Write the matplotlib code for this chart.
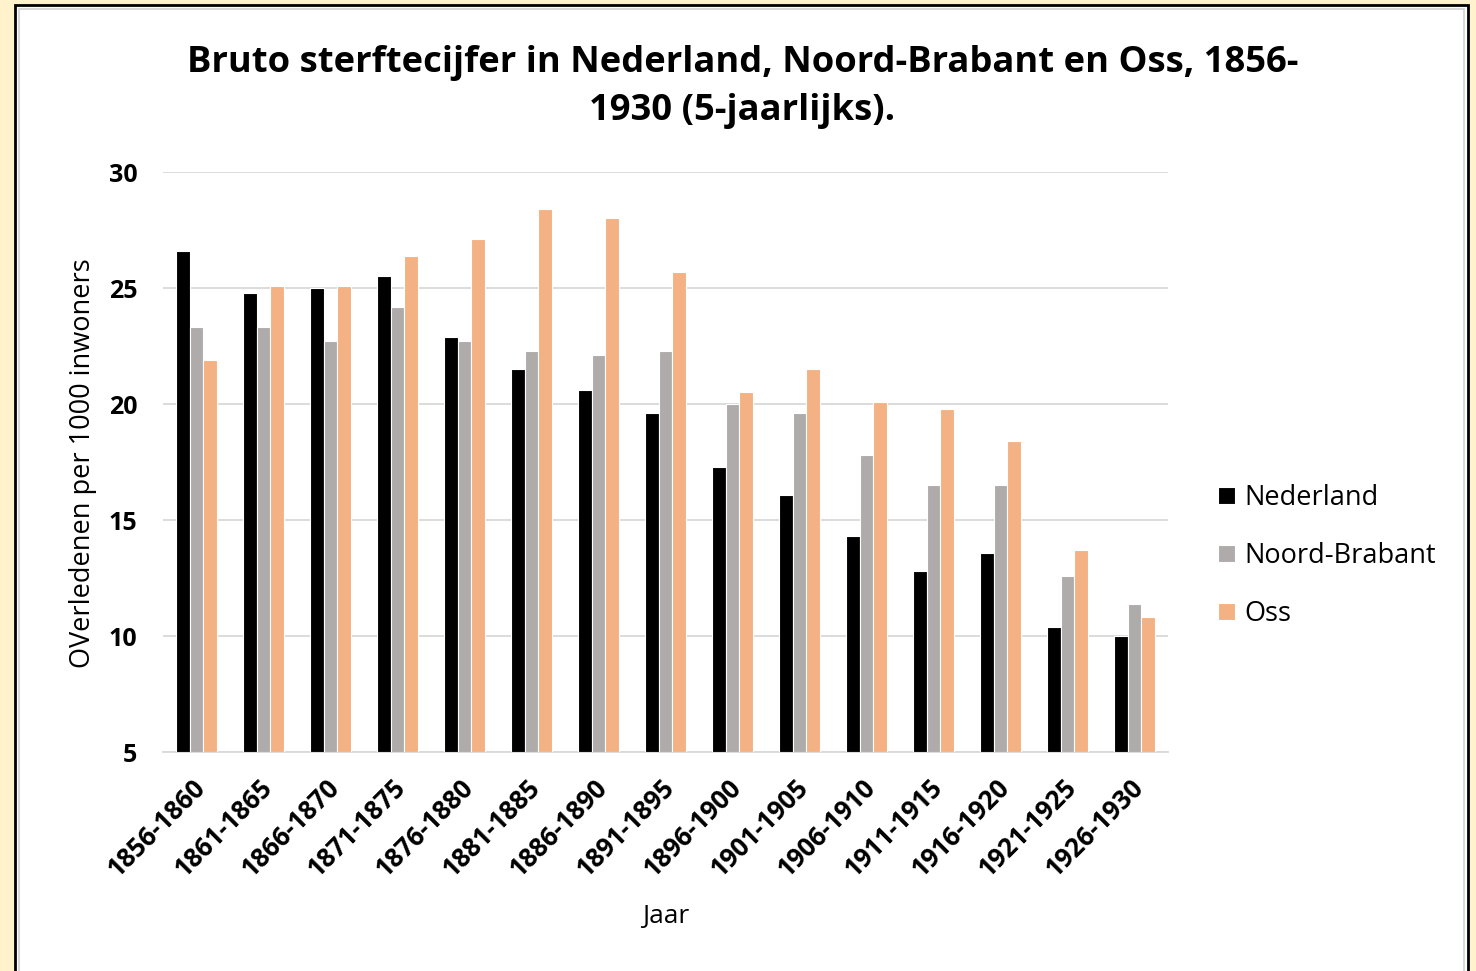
import numpy as np
import matplotlib
matplotlib.use('Agg')
import matplotlib.pyplot as plt
from matplotlib.patches import Rectangle
from matplotlib.transforms import ScaledTranslation

plt.rcParams['font.family'] = ['Open Sans', 'DejaVu Sans']

# ---- data ----
periodes = ['1856-1860', '1861-1865', '1866-1870', '1871-1875', '1876-1880',
            '1881-1885', '1886-1890', '1891-1895', '1896-1900', '1901-1905',
            '1906-1910', '1911-1915', '1916-1920', '1921-1925', '1926-1930']
nederland = [26.6, 24.8, 25.0, 25.5, 22.9, 21.5, 20.6, 19.6, 17.3, 16.1,
             14.3, 12.8, 13.6, 10.4, 10.0]
noord_brabant = [23.3, 23.3, 22.7, 24.2, 22.7, 22.3, 22.1, 22.3, 20.0, 19.6,
                 17.8, 16.5, 16.5, 12.6, 11.4]
oss = [21.9, 25.1, 25.1, 26.4, 27.1, 28.4, 28.0, 25.7, 20.5, 21.5,
       20.1, 19.8, 18.4, 13.7, 10.8]

series = [('Nederland', nederland, '#000000'),
          ('Noord-Brabant', noord_brabant, '#AFABAB'),
          ('Oss', oss, '#F4B183')]

fig = plt.figure(figsize=(14.76, 9.71), dpi=100, facecolor='#FFF2CC')

# white panel with black frame
fig.patches.append(Rectangle((15 / 1476, -0.02), 1453 / 1476, 1.0149,
                             transform=fig.transFigure, facecolor='white',
                             edgecolor='black', linewidth=2, zorder=-10))
fig.patches.append(Rectangle((19 / 1476, -0.02), 1445 / 1476, 1.0108,
                             transform=fig.transFigure, facecolor='none',
                             edgecolor='#D9D9D9', linewidth=1.5, zorder=-9))

ax = fig.add_axes([0.1104, 0.2255, 0.6809, 0.5973])
ax.set_facecolor('white')

x = np.arange(len(periodes))
w = 0.205
for i, (naam, vals, kleur) in enumerate(series):
    ax.bar(x + (i - 1) * w, np.array(vals) - 5, w, bottom=5, color=kleur,
           edgecolor='white', linewidth=0.8, label=naam, zorder=3)

ax.set_xlim(-0.5, len(periodes) - 0.5)
ax.set_ylim(5, 30)
ax.set_yticks([5, 10, 15, 20, 25, 30])
ax.yaxis.grid(True, color='#D9D9D9', linewidth=1.3, zorder=0)
ax.set_axisbelow(True)
for s in ['top', 'right', 'left']:
    ax.spines[s].set_visible(False)
ax.spines['bottom'].set_color('#D9D9D9')
ax.spines['bottom'].set_linewidth(1.3)
ax.tick_params(axis='both', length=0)
ax.tick_params(axis='y', pad=18.5)

ax.set_xticks(x)
ax.set_xticklabels(periodes, rotation=45, ha='right', rotation_mode='anchor',
                   fontsize=18.5, fontweight='bold')
ax.tick_params(axis='x', pad=16)
# schuif de jaartallen een paar pixels naar links
shift = ScaledTranslation(-5 / 100, 0, fig.dpi_scale_trans)
for lab in ax.get_xticklabels():
    lab.set_transform(lab.get_transform() + shift)
for lab in ax.get_yticklabels():
    lab.set_fontsize(18)
    lab.set_fontweight('bold')

ax.set_xlabel('Jaar', fontsize=19)
ax.xaxis.set_label_coords(0.5, -0.262)
ax.set_ylabel('OVerledenen per 1000 inwoners', fontsize=19.5)
ax.yaxis.set_label_coords(-0.066, 0.498)

fig.text(0.503, 0.9537,
         'Bruto sterftecijfer in Nederland, Noord-Brabant en Oss, 1856-\n1930 (5-jaarlijks).',
         ha='center', va='top', fontsize=26.2, fontweight='bold', linespacing=1.45)

ax.legend(loc='center left', bbox_to_anchor=(1.026, 0.338), frameon=False,
          fontsize=19.5, handlelength=0.6, handleheight=0.6, handletextpad=0.34,
          labelspacing=1.12)

fig.savefig('out.png', dpi=100, facecolor=fig.get_facecolor())
